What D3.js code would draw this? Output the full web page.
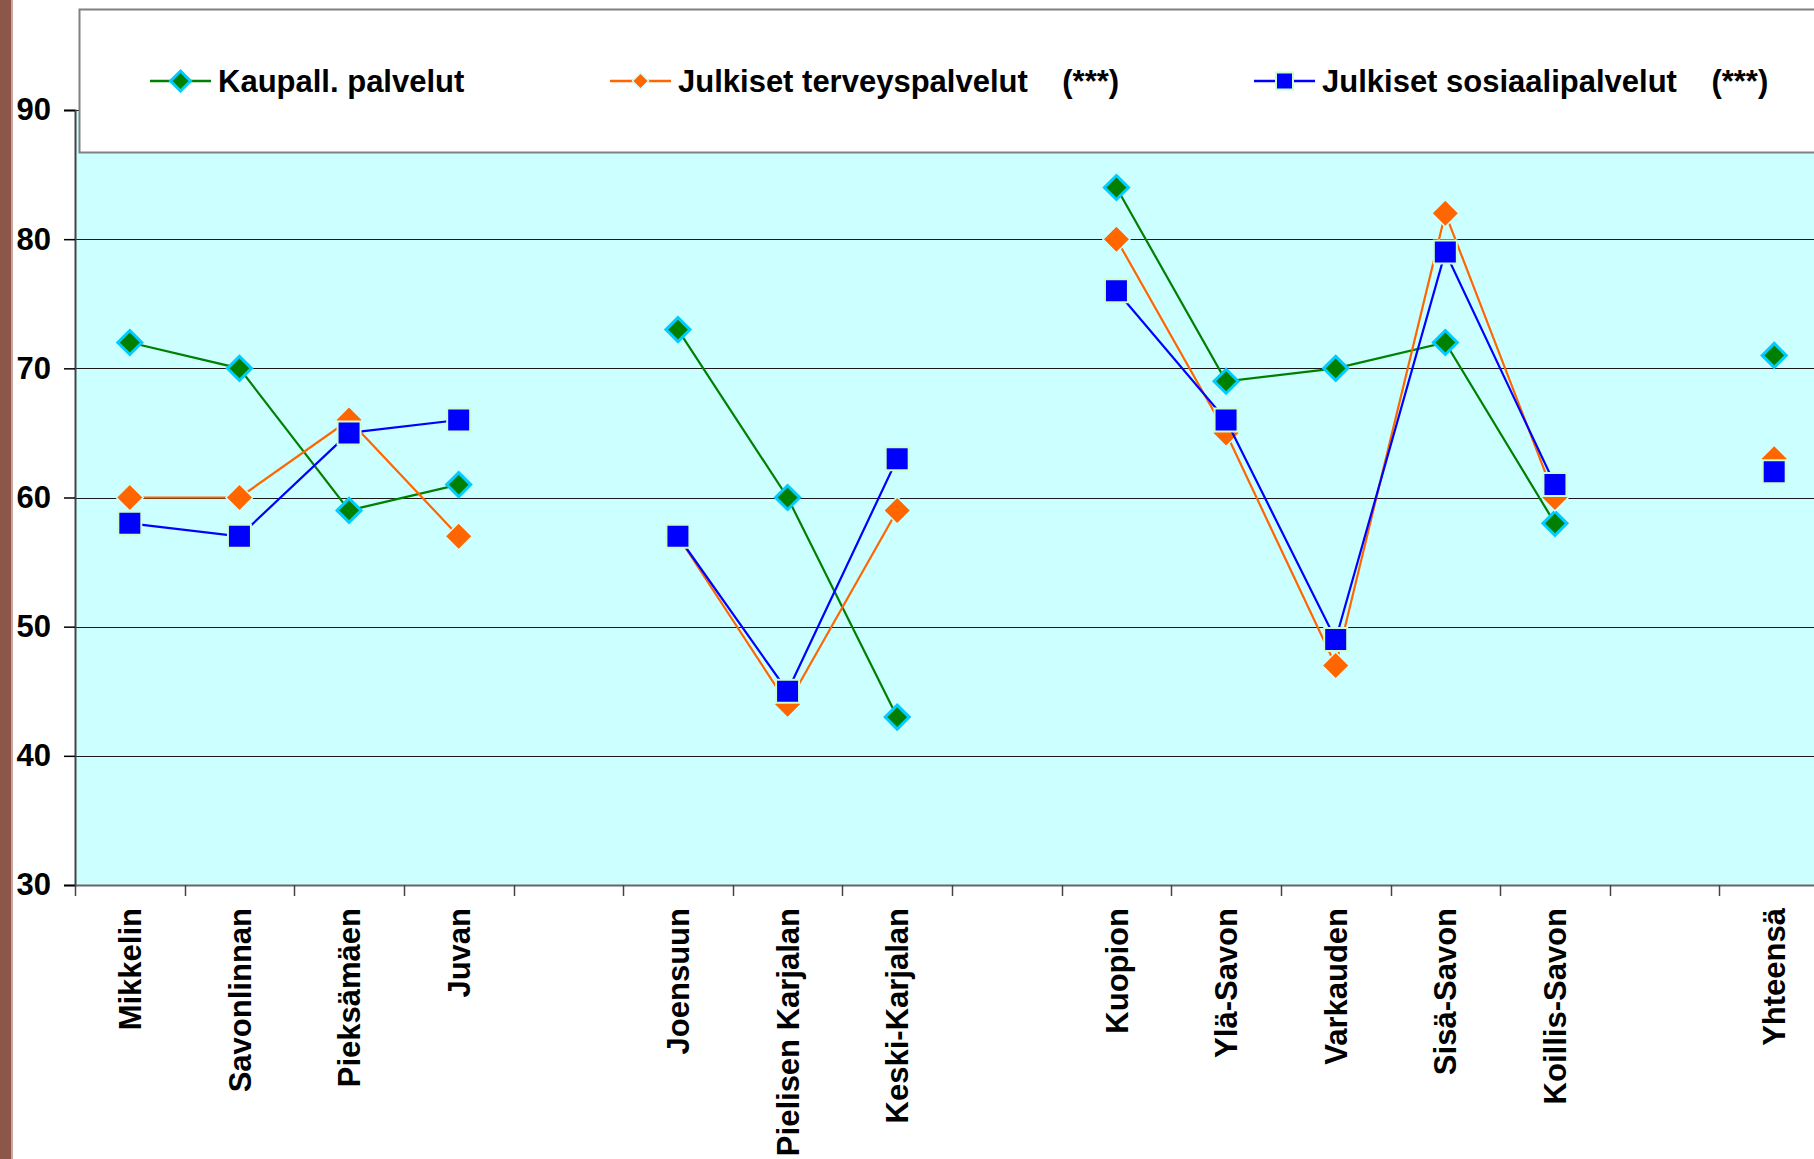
<!DOCTYPE html>
<html>
<head>
<meta charset="utf-8">
<script src="https://cdn.jsdelivr.net/npm/d3@7"></script>
<style>
  html, body { margin: 0; padding: 0; background: #ffffff; }
  svg { display: block; }
  text { font-family: "Liberation Sans", Arial, sans-serif; font-weight: bold; fill: #000; }
</style>
</head>
<body>
<script>
// ---- data ----
const categories = ["Mikkelin", "Savonlinnan", "Pieksämäen", "Juvan", "",
  "Joensuun", "Pielisen Karjalan", "Keski-Karjalan", "",
  "Kuopion", "Ylä-Savon", "Varkauden", "Sisä-Savon", "Koillis-Savon", "",
  "Yhteensä"];
const kaupallPalvelut      = [72, 70, 59, 61, null, 73, 60, 43, null, 84, 69, 70, 72, 58, null, 71];
const terveysPalvelut      = [60, 60, 66, 57, null, 57, 44, 59, null, 80, 65, 47, 82, 60, null, 63];
const sosiaaliPalvelut     = [58, 57, 65, 66, null, 57, 45, 63, null, 76, 66, 49, 79, 61, null, 62];
const seriesNames = ["Kaupall. palvelut", "Julkiset terveyspalvelut    (***)", "Julkiset sosiaalipalvelut    (***)"];
const yTickValues = [30, 40, 50, 60, 70, 80, 90];
const yDomain = [30, 90];

// ---- layout ----
const W = 1814, H = 1159;
const plot = { left: 75, right: 1829, top: 110, bottom: 885 };
const FONT = 31;

const svg = d3.select("body").append("svg").attr("width", W).attr("height", H);

// brown strip on the left
svg.append("rect").attr("x", 0).attr("y", 0).attr("width", 12).attr("height", H).attr("fill", "#8C5648");
svg.append("rect").attr("x", 11).attr("y", 0).attr("width", 2).attr("height", H).attr("fill", "#C9A79D");

const x = d3.scaleBand().domain(d3.range(categories.length)).range([plot.left, plot.right]).padding(0);
const y = d3.scaleLinear().domain(yDomain).range([plot.bottom, plot.top]);

// plot area background
svg.append("rect")
  .attr("x", plot.left).attr("y", plot.top)
  .attr("width", plot.right - plot.left).attr("height", plot.bottom - plot.top)
  .attr("fill", "#CCFFFF");

// gridlines
svg.append("g").selectAll("line")
  .data(yTickValues.filter(v => v > yDomain[0]))
  .join("line")
  .attr("x1", plot.left).attr("x2", plot.right)
  .attr("y1", d => Math.round(y(d)) + 0.5).attr("y2", d => Math.round(y(d)) + 0.5)
  .attr("stroke", "#1a1a1a").attr("stroke-width", 1.2);

// y axis
const yAxis = d3.axisLeft(y).tickValues(yTickValues).tickSize(11).tickPadding(13).tickFormat(d3.format("d"));
const gy = svg.append("g").attr("transform", `translate(${plot.left},0)`).call(yAxis);
gy.select(".domain").attr("stroke", "#444").attr("stroke-width", 2);
gy.selectAll(".tick line").attr("stroke", "#000").attr("stroke-width", 1.5);
gy.selectAll(".tick text").attr("font-size", FONT).attr("font-family", "Liberation Sans, Arial, sans-serif").attr("font-weight", "bold").attr("fill", "#000");

// x axis (labels)
const xAxis = d3.axisBottom(x).tickSize(0).tickPadding(0).tickFormat(i => categories[i]);
const gx = svg.append("g").attr("transform", `translate(0,${plot.bottom})`).call(xAxis);
gx.select(".domain").attr("stroke", "#666").attr("stroke-width", 2);
gx.selectAll(".tick text")
  .attr("font-size", FONT).attr("font-family", "Liberation Sans, Arial, sans-serif").attr("font-weight", "bold").attr("fill", "#000")
  .attr("transform", "rotate(-90)")
  .attr("text-anchor", "end")
  .attr("x", -23).attr("y", 0).attr("dy", "0.36em");

// x boundary ticks
svg.append("g").selectAll("line")
  .data(d3.range(categories.length + 1))
  .join("line")
  .attr("x1", i => Math.round(plot.left + i * x.step()) + 0.5)
  .attr("x2", i => Math.round(plot.left + i * x.step()) + 0.5)
  .attr("y1", plot.bottom).attr("y2", plot.bottom + 11)
  .attr("stroke", "#444").attr("stroke-width", 1.5);

// series
const cx = i => x(i) + x.bandwidth() / 2;
const diamond = s => `M0,${-s} L${s},0 L0,${s} L${-s},0 Z`;
const square = s => `M${-s},${-s} H${s} V${s} H${-s} Z`;

const series = [
  { name: seriesNames[0], values: kaupallPalvelut, color: "#008000", fill: "#008000", stroke: "#00CCFF", strokeW: 3, shape: diamond, size: 12, legSize: 10 },
  { name: seriesNames[1], values: terveysPalvelut, color: "#FF6600", fill: "#FF6600", stroke: "#CCFFFF", strokeW: 1.5, shape: diamond, size: 13.5, legSize: 8 },
  { name: seriesNames[2], values: sosiaaliPalvelut, color: "#0000FF", fill: "#0000FF", stroke: "#CCFFCC", strokeW: 2, shape: square, size: 11.5, legSize: 8.5 }
];

const line = d3.line().defined(d => d.v != null).x(d => cx(d.i)).y(d => y(d.v));

series.forEach(s => {
  const pts = s.values.map((v, i) => ({ i, v }));
  const g = svg.append("g");
  g.append("path").datum(pts).attr("d", line)
    .attr("fill", "none").attr("stroke", s.color).attr("stroke-width", 2.2);
  g.selectAll("path.m").data(pts.filter(d => d.v != null)).join("path")
    .attr("class", "m")
    .attr("transform", d => `translate(${cx(d.i)},${y(d.v)})`)
    .attr("d", s.shape(s.size))
    .attr("fill", s.fill).attr("stroke", s.stroke).attr("stroke-width", s.strokeW);
});

// legend box
svg.append("rect").attr("x", 79.5).attr("y", 9.5).attr("width", 1800).attr("height", 143)
  .attr("fill", "#ffffff").attr("stroke", "#808080").attr("stroke-width", 2);

const legendX = [150, 610, 1254];
const legendY = 81;
series.forEach((s, k) => {
  const g = svg.append("g").attr("transform", `translate(${legendX[k]},${legendY})`);
  g.append("line").attr("x1", 0).attr("x2", 61).attr("y1", 0).attr("y2", 0)
    .attr("stroke", s.color).attr("stroke-width", 2.5);
  g.append("path").attr("transform", "translate(30.5,0)").attr("d", s.shape(s.legSize))
    .attr("fill", s.fill).attr("stroke", s.stroke).attr("stroke-width", s.strokeW);
  g.append("text").attr("x", 68).attr("y", 0).attr("dy", "0.36em")
    .attr("font-size", FONT).style("white-space", "pre")
    .text(s.name);
});
</script>
</body>
</html>
